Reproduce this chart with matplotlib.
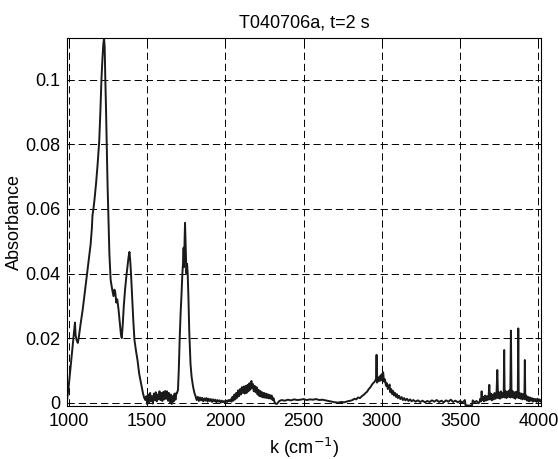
import numpy as np
import matplotlib
matplotlib.use('Agg')
import matplotlib.pyplot as plt

plt.rcParams['font.family'] = ['Liberation Sans', 'DejaVu Sans']

# absorbance spectrum
k_main = [990, 995, 1000, 1010, 1020, 1030, 1036, 1040, 1044, 1050, 1058, 1064, 1075, 1090,
          1105, 1120, 1132, 1140, 1148, 1152, 1158, 1165, 1175, 1185, 1195, 1203, 1209, 1215,
          1221, 1226, 1230, 1234, 1238, 1242, 1248, 1254, 1260, 1268, 1278, 1286, 1292, 1298,
          1304, 1310, 1318, 1326, 1334, 1339, 1345, 1352, 1360, 1368, 1377, 1382, 1388, 1393,
          1398, 1405, 1412, 1420, 1430, 1440, 1450, 1458, 1466, 1474, 1482, 1490]
a_main = [0.001, 0.003, 0.005, 0.010, 0.015, 0.020, 0.023, 0.0248, 0.021, 0.0195, 0.0185, 0.020,
          0.024, 0.029, 0.035, 0.041, 0.046, 0.049, 0.054, 0.058, 0.060, 0.063, 0.068, 0.074,
          0.081, 0.091, 0.100, 0.106, 0.111, 0.113, 0.110, 0.100, 0.092, 0.082, 0.068, 0.057,
          0.046, 0.038, 0.035, 0.033, 0.035, 0.034, 0.031, 0.032, 0.029, 0.025, 0.021, 0.020,
          0.024, 0.030, 0.035, 0.039, 0.043, 0.045, 0.0467, 0.044, 0.040, 0.033, 0.026, 0.0194,
          0.016, 0.013, 0.009, 0.007, 0.005, 0.003, 0.0015, 0.0008]

k_gap1 = [1496, 1502, 1508, 1514, 1520, 1526, 1532, 1538, 1544, 1550, 1556, 1562, 1568, 1574,
          1580, 1586, 1592, 1598, 1604, 1610, 1616, 1622, 1628, 1634, 1640, 1646, 1652, 1658,
          1664, 1670, 1676, 1682, 1688]
a_gap1 = [0.002, -0.0005, 0.0025, 0.0, 0.003, 0.0005, 0.002, -0.0003, 0.0028, 0.0008, 0.0032,
          0.0004, 0.0025, 0.001, 0.0035, 0.0008, 0.003, 0.0005, 0.0033, 0.001, 0.0036, 0.0012,
          0.0035, 0.0006, 0.003, 0.0002, 0.0025, -0.0004, 0.002, 0.0003, 0.0028, 0.0009, 0.003]

k_c_o = [1692, 1698, 1703, 1709, 1715, 1720, 1726, 1730, 1734, 1737, 1740, 1743, 1746, 1749,
         1752, 1756, 1760, 1765, 1770, 1773, 1778, 1785, 1794, 1803]
a_c_o = [0.003, 0.004, 0.010, 0.020, 0.028, 0.033, 0.040, 0.043, 0.048, 0.042, 0.050, 0.0557,
         0.050, 0.045, 0.040, 0.043, 0.040, 0.032, 0.022, 0.018, 0.012, 0.008, 0.005, 0.003]

k_gap2 = [1810, 1817, 1824, 1831, 1838, 1845, 1852, 1859, 1866, 1873, 1880, 1887, 1894, 1901,
          1908, 1915, 1922, 1929, 1936, 1943, 1950, 1957, 1964, 1971, 1978, 1985, 1992, 1999,
          2006, 2013, 2020, 2027]
a_gap2 = [0.002, 0.0008, 0.0018, 0.0005, 0.0016, 0.0007, 0.0015, 0.0004, 0.0013, 0.0006, 0.0014,
          0.0003, 0.0012, 0.0005, 0.0011, 0.0002, 0.001, 0.0004, 0.0009, 0.0001, 0.0008, 0.0003,
          0.0007, 0.0, 0.0006, 0.0001, 0.0005, 0.0, 0.0006, 0.0002, 0.0008, 0.0004]

k_bump = [2034, 2040, 2046, 2052, 2058, 2064, 2070, 2076, 2082, 2088, 2094, 2100, 2106, 2112,
          2118, 2124, 2130, 2136, 2142, 2148, 2154, 2160, 2164, 2167, 2170, 2176, 2182, 2188,
          2194, 2200, 2206, 2212, 2218, 2224, 2230, 2236, 2242, 2248, 2254, 2260, 2266, 2272,
          2278, 2284, 2290, 2296, 2302, 2308, 2314, 2320]
a_bump = [0.001, 0.0003, 0.0018, 0.0006, 0.0025, 0.001, 0.003, 0.0015, 0.0038, 0.002, 0.0042,
          0.0025, 0.0048, 0.003, 0.005, 0.0028, 0.0052, 0.003, 0.0055, 0.0035, 0.006, 0.004,
          0.0058, 0.0067, 0.0045, 0.0058, 0.0035, 0.0052, 0.0032, 0.0048, 0.0025, 0.004, 0.002,
          0.0036, 0.0018, 0.0032, 0.0016, 0.003, 0.0015, 0.0028, 0.0014, 0.0026, 0.0013, 0.0024,
          0.0012, 0.0022, 0.0008, 0.0014, 0.0002, -0.0003]

k_flat = [2330, 2345, 2360, 2380, 2400, 2420, 2440, 2460, 2480, 2500, 2520, 2540, 2560, 2580,
          2600, 2620, 2640, 2660, 2680, 2700, 2720, 2740, 2760, 2780, 2800]
a_flat = [-0.0004, 0.0005, 0.0008, 0.0006, 0.0009, 0.0007, 0.001, 0.0008, 0.0009, 0.0011, 0.0008,
          0.001, 0.0009, 0.0011, 0.0008, 0.0009, 0.0007, 0.0005, 0.0003, 0.0001, 0.0, 0.0002,
          0.0001, 0.0004, 0.0006]

k_c_h = [2812, 2824, 2836, 2848, 2860, 2872, 2884, 2896, 2906, 2916, 2926, 2936, 2944, 2952,
         2958, 2963, 2966, 2969, 2974, 2980, 2986, 2992, 2998, 3003, 3008, 3014, 3020, 3026,
         3032, 3038, 3044, 3049, 3054, 3060, 3066, 3072, 3078, 3084, 3090, 3096, 3102, 3110,
         3118, 3126, 3134, 3142, 3150, 3160, 3170, 3180, 3190, 3200]
a_c_h = [0.0008, 0.0012, 0.001, 0.0016, 0.0014, 0.002, 0.0024, 0.003, 0.0034, 0.0042, 0.0047,
         0.0055, 0.006, 0.0064, 0.0068, 0.0075, 0.0148, 0.0062, 0.0078, 0.0066, 0.0082, 0.0068,
         0.0088, 0.0075, 0.0094, 0.0065, 0.0072, 0.0052, 0.006, 0.0042, 0.0048, 0.0056, 0.0032,
         0.0042, 0.0026, 0.0036, 0.0022, 0.003, 0.0018, 0.0026, 0.0014, 0.0021, 0.0011, 0.0017,
         0.0008, 0.0014, 0.0007, 0.0012, 0.0005, 0.001, 0.0004, 0.0008]

k_gap3 = [3215, 3230, 3245, 3260, 3275, 3290, 3305, 3320, 3335, 3350, 3365, 3380, 3395, 3410,
          3425, 3440, 3455, 3470, 3485, 3500, 3515, 3530, 3534, 3545, 3565, 3576, 3580, 3592,
          3604, 3616]
a_gap3 = [0.0003, 0.0007, 0.0002, 0.0006, 0.0001, 0.0005, 0.0002, 0.0007, 0.0003, 0.0008, 0.0002,
          0.0006, 0.0001, 0.0007, 0.0003, 0.0009, 0.0002, 0.0006, 0.0001, 0.0005, 0.0, 0.0008,
          -0.0008, -0.0009, -0.0009, -0.0008, 0.0007, 0.0001, 0.0005, -0.0002]

k_spikes = [3622, 3628, 3634, 3637, 3640, 3646, 3652, 3658, 3664, 3670, 3676, 3682, 3686, 3690,
            3696, 3702, 3708, 3714, 3720, 3726, 3732, 3737, 3742, 3748, 3754, 3760, 3766, 3772,
            3778, 3781, 3784, 3790, 3796, 3802, 3808, 3814, 3820, 3824, 3828, 3834, 3840, 3846,
            3852, 3858, 3864, 3868, 3871, 3874, 3880, 3886, 3892, 3898, 3904, 3910, 3913, 3916,
            3922, 3928, 3934, 3940, 3946, 3952, 3958, 3964, 3970, 3976, 3982, 3988, 3994, 4000,
            4006, 4012, 4016]
a_spikes = [0.0, 0.0012, 0.0004, 0.0035, 0.0008, 0.0018, 0.0004, 0.0022, 0.0006, 0.002, 0.0008,
            0.0024, 0.0055, 0.001, 0.0028, 0.0007, 0.0025, 0.001, 0.003, 0.0012, 0.0026, 0.0101,
            0.0014, 0.0032, 0.0012, 0.0035, 0.0015, 0.003, 0.0018, 0.0163, 0.0016, 0.0036, 0.0014,
            0.0034, 0.0018, 0.0038, 0.0016, 0.0223, 0.0018, 0.0036, 0.0015, 0.0032, 0.0012,
            0.0034, 0.0016, 0.0024, 0.0230, 0.0014, 0.003, 0.0012, 0.0028, 0.001, 0.0026, 0.0012,
            0.0132, 0.001, 0.0022, 0.0006, 0.0018, 0.0004, 0.0016, 0.0006, 0.0014, 0.0003,
            0.0012, 0.0005, 0.0011, 0.0002, 0.0012, 0.0004, 0.001, 0.0003, 0.0006]

k = np.concatenate([k_main, k_gap1, k_c_o, k_gap2, k_bump, k_flat, k_c_h, k_gap3, k_spikes])
a = np.concatenate([a_main, a_gap1, a_c_o, a_gap2, a_bump, a_flat, a_c_h, a_gap3, a_spikes])

x_ticks = [1000, 1500, 2000, 2500, 3000, 3500, 4000]
y_ticks = [0, 0.02, 0.04, 0.06, 0.08, 0.1]
y_tick_labels = ['0', '0.02', '0.04', '0.06', '0.08', '0.1']

fig = plt.figure(figsize=(5.58, 4.59), dpi=100)
ax = fig.add_axes([0.120, 0.1144, 0.8495, 0.8036])

ax.plot(k, a, color='#1a1a1a', linewidth=1.4)

ax.set_xlim(989, 4016)
ax.set_ylim(-0.0012, 0.1131)
ax.set_xticks(x_ticks)
ax.set_yticks(y_ticks)
ax.set_yticklabels(y_tick_labels)

# MATLAB look: dashed grid, ticks inside on all sides
ax.grid(True, color='black', linestyle=(0, (7.5, 4)), linewidth=0.7)
ax.tick_params(direction='in', length=4, width=0.7, labelsize=13,
               top=True, right=True, pad=5)
for spine in ax.spines.values():
    spine.set_linewidth(0.8)
    spine.set_color('black')

ax.set_title('T040706a, t=2 s', fontsize=13, pad=7)
ax.set_xlabel('k (cm$^{-1}$)', fontsize=13, labelpad=4)
ax.set_ylabel('Absorbance', fontsize=13, labelpad=1)

fig.savefig('out.png', dpi=100)
